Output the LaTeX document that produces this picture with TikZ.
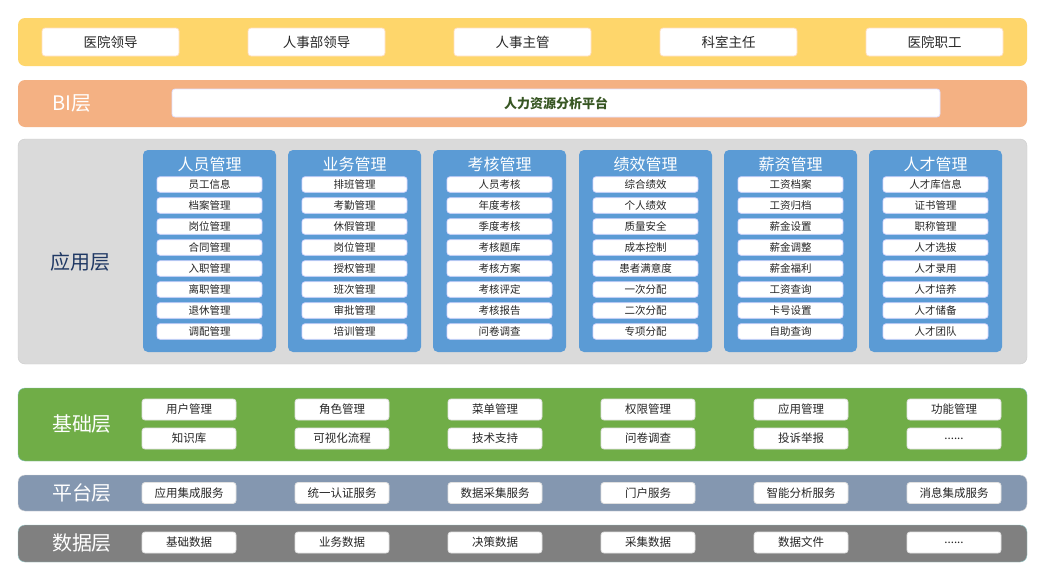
\documentclass[tikz,border=0pt]{standalone}
\usepackage{fontspec}
\setmainfont{Noto Sans CJK SC}
\begin{document}
\begin{tikzpicture}[x=1pt,y=-1pt,
  band/.style={rounded corners=7pt},
  wbox/.style={fill=white,rounded corners=3pt,draw=#1,line width=0.8pt,inner sep=0pt,font=\fontsize{11.5}{11.5}\selectfont,text=black!85},
  topbox/.style={wbox=orange!25,minimum width=137pt,minimum height=28pt,font=\fontsize{13.5}{13.5}\selectfont},
  itembox/.style={wbox=blue!15,minimum width=105pt,minimum height=15.5pt,font=\fontsize{10.5}{10.5}\selectfont},
  basebox/.style={wbox=black!12,minimum width=94pt,minimum height=21pt},
  colbox/.style={fill=colblue,rounded corners=5pt},
  coltitle/.style={text=white,font=\fontsize{16}{16}\selectfont,inner sep=0pt},
  layerlabel/.style={text=white,font=\fontsize{20}{20}\selectfont,inner sep=0pt}
]
\definecolor{yel}{HTML}{FED66B}
\definecolor{sal}{HTML}{F4B183}
\definecolor{appgray}{HTML}{DADADA}
\definecolor{colblue}{HTML}{5B9BD5}
\definecolor{grn}{HTML}{70AD47}
\definecolor{plat}{HTML}{8497B0}
\definecolor{dgray}{HTML}{808080}
\definecolor{navy}{HTML}{1F3864}
\definecolor{dgreen}{HTML}{375623}
\useasboundingbox (0,0) rectangle (1045,576);
\fill[white] (0,0) rectangle (1045,576);

% top band
\fill[yel,band] (18,18) rectangle (1027,66);
\foreach \t/\x [count=\i] in {医院领导/110.5,人事部领导/316.5,人事主管/522.5,科室主任/728.5,医院职工/934.5}
  \node[topbox] (top\i) at (\x,42) {\t};

% BI band
\fill[sal,band] (18,80) rectangle (1027,127);
\node[layerlabel] (bilabel) at (72,103) {BI层};
\node[wbox=blue!12,minimum width=768pt,minimum height=28pt,font=\fontsize{13}{13}\selectfont\bfseries,text=dgreen] (bi) at (556,103) {人力资源分析平台};

% application layer
\fill[appgray,band,draw=black!20] (18,139) rectangle (1027,364);
\node[text=navy,font=\fontsize{20}{20}\selectfont,inner sep=0pt] (applabel) at (80,262) {应用层};

\foreach \xl/\title/\items [count=\c] in {
  143/人员管理/{员工信息,档案管理,岗位管理,合同管理,入职管理,离职管理,退休管理,调配管理},
  288/业务管理/{排班管理,考勤管理,休假管理,岗位管理,授权管理,班次管理,审批管理,培训管理},
  433/考核管理/{人员考核,年度考核,季度考核,考核题库,考核方案,考核评定,考核报告,问卷调查},
  579/绩效管理/{综合绩效,个人绩效,质量安全,成本控制,患者满意度,一次分配,二次分配,专项分配},
  724/薪资管理/{工资档案,工资归档,薪金设置,薪金调整,薪金福利,工资查询,卡号设置,自助查询},
  869/人才管理/{人才库信息,证书管理,职称管理,人才选拔,人才录用,人才培养,人才储备,人才团队}}{
  \fill[colbox] (\xl,150) rectangle ++(133,202);
  \node[coltitle] (col\c) at (\xl+66.5,164) {\title};
  \foreach \it [count=\r] in \items
    \node[itembox] (item\c-\r) at (\xl+66.5,163.5+21*\r) {\it};
}

% base layer
\fill[grn,band,draw=teal!50] (18,388) rectangle (1027,461);
\node[layerlabel] (baselabel) at (82,424) {基础层};
\foreach \t/\x [count=\i] in {用户管理/189,角色管理/342,菜单管理/495,权限管理/648,应用管理/801,功能管理/954}
  \node[basebox] (baseA\i) at (\x,409.5) {\t};
\foreach \t/\x [count=\i] in {知识库/189,可视化流程/342,技术支持/495,问卷调查/648,投诉举报/801,{......}/954}
  \node[basebox] (baseB\i) at (\x,438.5) {\t};

% platform layer
\fill[plat,band,draw=black!15] (18,475) rectangle (1027,511);
\node[layerlabel] (platlabel) at (82,493) {平台层};
\foreach \t/\x [count=\i] in {应用集成服务/189,统一认证服务/342,数据采集服务/495,门户服务/648,智能分析服务/801,消息集成服务/954}
  \node[basebox] (plat\i) at (\x,493) {\t};

% data layer
\fill[dgray,band,draw=teal!40] (18,525) rectangle (1027,562);
\node[layerlabel] (datalabel) at (82,543) {数据层};
\foreach \t/\x [count=\i] in {基础数据/189,业务数据/342,决策数据/495,采集数据/648,数据文件/801,{......}/954}
  \node[basebox] (data\i) at (\x,542.5) {\t};
\end{tikzpicture}
\end{document}
